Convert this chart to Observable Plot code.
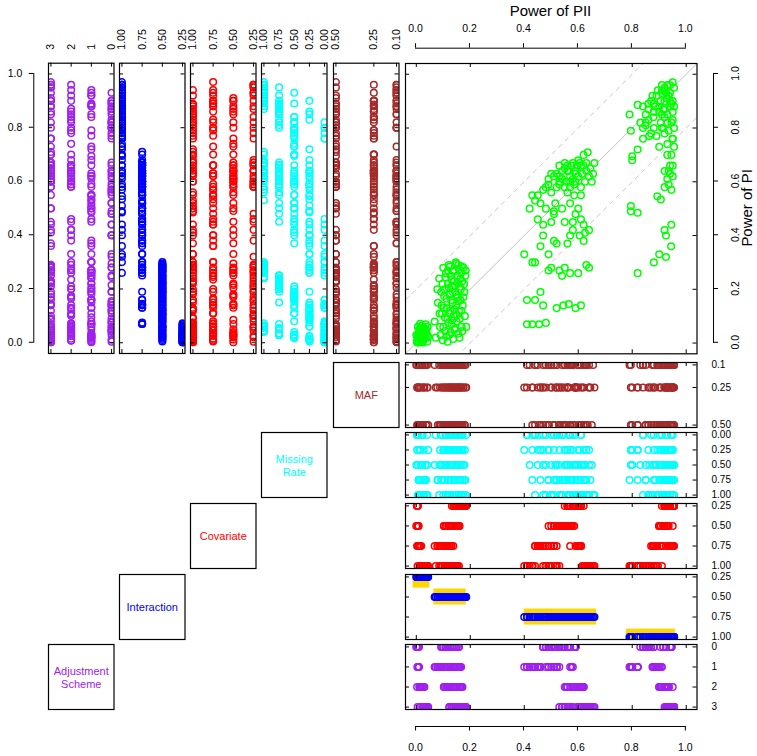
<!DOCTYPE html>
<html>
<head>
<meta charset="utf-8">
<script src="https://cdn.jsdelivr.net/npm/d3@7"></script>
<script src="https://cdn.jsdelivr.net/npm/@observablehq/plot@0.6"></script>
<style>
  html, body { margin: 0; padding: 0; background: #ffffff; }
  #chart { position: relative; width: 757px; height: 756px; overflow: hidden; background: #ffffff; }
</style>
</head>
<body>
<div id="chart"></div>
<script>
// ---------------- DATA ----------------
// rows: [Power of PII, Power of PI, adjustment scheme, covariate, missing rate, MAF]
const interaction025 = [
  [0.002,0.004,0,0.25,0.00,0.10],[0.004,0.012,0,0.50,0.25,0.25],[0.006,0.020,1,0.25,0.50,0.50],
  [0.008,0.030,1,0.50,0.75,0.10],[0.010,0.045,0,0.75,1.00,0.25],[0.003,0.008,2,0.75,0.00,0.50],
  [0.012,0.015,2,0.75,0.25,0.10],[0.018,0.025,2,0.75,0.50,0.25],[0.025,0.035,2,1.00,0.75,0.50],
  [0.030,0.055,2,1.00,1.00,0.10],[0.005,0.002,3,1.00,0.00,0.25],[0.015,0.010,3,1.00,0.25,0.50],
  [0.022,0.018,3,1.00,0.50,0.10],[0.030,0.028,3,1.00,0.75,0.25],[0.038,0.040,3,1.00,1.00,0.50],
  [0.042,0.060,3,1.00,1.00,0.25],[0.035,0.070,3,1.00,0.75,0.10],[0.020,0.065,2,1.00,1.00,0.50],
  [0.010,0.050,1,0.75,0.75,0.50],[0.040,0.005,3,1.00,0.00,0.10],[0.028,0.012,3,1.00,0.25,0.25],
  [0.016,0.040,2,1.00,0.50,0.50],[0.000,0.030,0,0.50,0.50,0.10],[0.044,0.022,3,1.00,0.25,0.50],
  [0.008,0.002,1,0.50,0.00,0.25],[0.012,0.035,2,0.75,0.75,0.10],[0.020,0.008,2,1.00,0.00,0.50],
  [0.026,0.045,3,1.00,1.00,0.25],[0.033,0.018,3,1.00,0.50,0.10],[0.006,0.060,0,0.75,1.00,0.50],
  [0.014,0.072,2,0.75,1.00,0.25],[0.036,0.050,3,1.00,0.75,0.50],[0.024,0.002,3,1.00,0.00,0.10],
  [0.004,0.025,1,0.25,0.25,0.25],[0.018,0.055,2,1.00,0.75,0.10],[0.040,0.030,3,1.00,0.50,0.25]
];
const interaction050 = [
  [0.068,0.080,1,0.75,0.50,0.10],[0.072,0.020,1,1.00,0.00,0.25],[0.080,0.150,1,0.75,0.75,0.50],
  [0.085,0.240,1,1.00,1.00,0.10],[0.088,0.060,1,0.75,0.25,0.25],[0.092,0.190,0,1.00,0.75,0.50],
  [0.095,0.110,0,0.75,0.50,0.10],[0.098,0.010,1,1.00,0.00,0.25],[0.100,0.280,0,0.75,1.00,0.50],
  [0.102,0.130,2,0.50,0.25,0.10],[0.105,0.200,2,1.00,0.75,0.25],[0.108,0.045,0,0.75,0.00,0.50],
  [0.110,0.260,1,0.50,1.00,0.10],[0.112,0.165,2,0.75,0.50,0.25],[0.115,0.090,0,1.00,0.25,0.50],
  [0.118,0.220,1,0.50,0.75,0.10],[0.120,0.290,2,1.00,1.00,0.25],[0.122,0.030,3,0.75,0.00,0.50],
  [0.124,0.180,3,0.50,0.50,0.10],[0.126,0.120,0,1.00,0.25,0.25],[0.128,0.250,1,0.75,0.75,0.50],
  [0.130,0.070,2,0.50,0.00,0.10],[0.132,0.210,3,0.25,0.50,0.25],[0.134,0.150,0,1.00,0.25,0.50],
  [0.136,0.270,1,0.50,1.00,0.10],[0.138,0.100,2,0.25,0.25,0.25],[0.140,0.230,3,1.00,0.75,0.50],
  [0.142,0.050,0,0.50,0.00,0.10],[0.144,0.190,1,0.25,0.50,0.25],[0.146,0.300,2,1.00,1.00,0.50],
  [0.148,0.140,3,0.50,0.25,0.10],[0.150,0.080,0,0.25,0.00,0.25],[0.152,0.250,1,1.00,0.75,0.50],
  [0.154,0.170,2,0.50,0.50,0.10],[0.156,0.290,3,0.25,1.00,0.25],[0.158,0.120,0,1.00,0.25,0.50],
  [0.160,0.020,1,0.50,0.00,0.10],[0.162,0.210,2,0.25,0.75,0.25],[0.164,0.160,3,0.25,0.50,0.50],
  [0.166,0.260,1,0.25,1.00,0.10],[0.168,0.060,2,0.25,0.00,0.25],[0.170,0.230,3,0.25,0.75,0.50],
  [0.172,0.140,3,0.25,0.25,0.10],[0.175,0.280,3,0.25,1.00,0.25],[0.178,0.190,3,0.25,0.50,0.50],
  [0.182,0.250,3,0.25,0.75,0.10],[0.185,0.060,3,0.25,0.00,0.25],[0.116,0.005,1,0.75,0.25,0.50],
  [0.090,0.030,1,1.00,0.00,0.50],[0.094,0.140,0,0.75,0.50,0.25],[0.097,0.220,1,1.00,0.75,0.10],
  [0.100,0.060,0,0.75,0.25,0.50],[0.103,0.175,2,0.50,0.50,0.25],[0.106,0.095,1,1.00,0.25,0.10],
  [0.109,0.245,0,0.75,1.00,0.50],[0.111,0.025,2,0.50,0.00,0.25],[0.113,0.130,1,1.00,0.50,0.10],
  [0.117,0.270,2,0.75,1.00,0.50],[0.119,0.075,0,1.00,0.25,0.25],[0.121,0.205,1,0.50,0.75,0.10],
  [0.123,0.110,2,0.75,0.25,0.50],[0.125,0.285,3,1.00,1.00,0.25],[0.127,0.040,0,0.50,0.00,0.10],
  [0.129,0.160,1,1.00,0.50,0.50],[0.131,0.235,2,0.75,0.75,0.25],[0.133,0.085,3,0.50,0.25,0.10],
  [0.135,0.190,0,1.00,0.50,0.50],[0.137,0.015,1,0.75,0.00,0.25],[0.139,0.265,3,0.25,1.00,0.10],
  [0.141,0.125,2,1.00,0.25,0.50],[0.143,0.215,0,0.50,0.75,0.25],[0.145,0.055,3,0.25,0.00,0.10],
  [0.147,0.180,1,1.00,0.50,0.50],[0.149,0.295,0,0.50,1.00,0.25],[0.151,0.105,2,0.25,0.25,0.10],
  [0.153,0.225,3,1.00,0.75,0.50],[0.155,0.035,1,0.50,0.00,0.25],[0.157,0.155,0,0.25,0.50,0.10],
  [0.159,0.275,2,0.50,1.00,0.50],[0.161,0.090,3,0.25,0.25,0.25],[0.163,0.240,1,0.25,0.75,0.10],
  [0.165,0.200,2,0.25,0.50,0.50],[0.167,0.120,3,0.25,0.25,0.25],[0.169,0.285,3,0.25,1.00,0.10],
  [0.171,0.045,2,0.25,0.00,0.50],[0.174,0.170,3,0.25,0.50,0.25],[0.177,0.220,3,0.25,0.75,0.10],
  [0.180,0.100,3,0.25,0.25,0.50],[0.183,0.270,3,0.25,1.00,0.25],[0.086,0.110,1,0.75,0.50,0.50],
  [0.078,0.200,1,0.75,0.75,0.25]
];
const interaction075 = [
  [0.44,0.53,1,1.00,1.00,0.10],[0.48,0.58,0,0.75,1.00,0.25],[0.51,0.62,1,0.50,1.00,0.50],
  [0.54,0.64,0,0.50,1.00,0.10],[0.56,0.66,2,0.25,1.00,0.25],[0.58,0.67,3,0.50,1.00,0.50],
  [0.60,0.68,2,0.25,1.00,0.10],[0.62,0.70,3,1.00,1.00,0.25],[0.635,0.71,3,1.00,1.00,0.50],
  [0.66,0.67,3,1.00,1.00,0.25],[0.57,0.62,1,0.75,1.00,0.10],[0.53,0.60,3,0.50,1.00,0.50],
  [0.50,0.56,0,1.00,1.00,0.10],[0.59,0.64,0,0.25,1.00,0.25],[0.61,0.66,2,0.75,1.00,0.50],
  [0.64,0.62,3,1.00,1.00,0.10],
  [0.43,0.55,1,1.00,0.75,0.25],[0.46,0.52,1,0.75,0.75,0.50],[0.49,0.61,0,0.50,0.75,0.10],
  [0.52,0.63,1,1.00,0.75,0.25],[0.55,0.65,2,0.50,0.75,0.50],[0.57,0.60,3,0.25,0.75,0.10],
  [0.59,0.63,2,0.75,0.75,0.25],[0.61,0.58,3,0.25,0.75,0.50],[0.63,0.64,3,1.00,0.75,0.10],
  [0.56,0.56,0,0.50,0.75,0.25],[0.51,0.48,0,0.75,0.75,0.50],[0.58,0.45,2,0.25,0.75,0.10],
  [0.54,0.50,3,0.50,0.75,0.25],[0.62,0.66,2,1.00,0.75,0.50],
  [0.42,0.50,1,1.00,0.50,0.10],[0.45,0.46,1,0.75,0.50,0.25],[0.47,0.40,0,1.00,0.50,0.50],
  [0.50,0.45,1,0.75,0.50,0.10],[0.53,0.62,0,0.50,0.50,0.25],[0.55,0.58,3,0.50,0.50,0.50],
  [0.57,0.52,0,0.50,0.50,0.10],[0.59,0.60,2,0.25,0.50,0.25],[0.60,0.50,3,0.75,0.50,0.50],
  [0.62,0.44,3,1.00,0.50,0.10],[0.64,0.42,3,1.00,0.50,0.25],[0.65,0.60,3,1.00,0.50,0.50],
  [0.52,0.37,1,1.00,0.50,0.10],[0.56,0.64,2,0.25,0.50,0.25],
  [0.40,0.33,1,1.00,0.25,0.25],[0.43,0.30,1,1.00,0.25,0.50],[0.45,0.55,1,0.75,0.25,0.10],
  [0.47,0.44,0,0.75,0.25,0.25],[0.49,0.27,1,1.00,0.25,0.50],[0.51,0.49,0,0.50,0.25,0.10],
  [0.55,0.28,3,0.50,0.25,0.25],[0.57,0.40,0,0.50,0.25,0.50],[0.58,0.61,1,0.25,0.25,0.10],
  [0.60,0.26,2,0.75,0.25,0.25],[0.62,0.38,2,0.25,0.25,0.50],[0.63,0.29,3,1.00,0.25,0.10],
  [0.46,0.19,1,0.75,0.25,0.25],[0.53,0.59,0,0.50,0.25,0.50],
  [0.41,0.07,1,1.00,0.00,0.10],[0.43,0.07,1,1.00,0.00,0.25],[0.455,0.07,1,0.75,0.00,0.50],
  [0.48,0.075,0,1.00,0.00,0.10],[0.41,0.16,1,1.00,0.00,0.25],[0.44,0.16,1,0.75,0.00,0.50],
  [0.47,0.14,0,0.75,0.00,0.10],[0.52,0.13,1,0.75,0.00,0.25],[0.545,0.14,0,0.50,0.00,0.50],
  [0.565,0.145,3,0.50,0.00,0.10],[0.59,0.13,0,0.25,0.00,0.25],[0.61,0.14,2,0.75,0.00,0.50],
  [0.44,0.30,1,0.75,0.00,0.10],[0.50,0.28,0,1.00,0.00,0.25],[0.54,0.25,0,0.50,0.00,0.50],
  [0.58,0.42,2,0.25,0.00,0.10],[0.61,0.46,2,0.25,0.00,0.25],[0.51,0.38,1,0.75,0.00,0.50],
  [0.47,0.57,0,0.75,1.00,0.25],[0.49,0.59,1,0.75,0.75,0.50],[0.50,0.63,0,0.50,1.00,0.25],
  [0.52,0.58,1,0.50,0.75,0.10],[0.53,0.66,0,0.50,0.75,0.50],[0.54,0.61,3,0.50,1.00,0.25],
  [0.55,0.67,0,0.25,0.75,0.10],[0.555,0.60,2,0.50,0.50,0.50],[0.565,0.64,3,0.25,1.00,0.25],
  [0.575,0.66,1,0.50,0.75,0.10],[0.585,0.59,2,0.25,0.50,0.50],[0.595,0.66,3,0.75,1.00,0.25],
  [0.60,0.62,2,0.25,0.75,0.10],[0.605,0.67,3,0.25,1.00,0.50],[0.615,0.63,2,1.00,0.50,0.25],
  [0.625,0.60,3,1.00,0.75,0.10],[0.63,0.67,3,1.00,1.00,0.50],[0.645,0.65,3,1.00,0.75,0.25],
  [0.655,0.63,3,1.00,1.00,0.10],[0.585,0.55,0,0.50,0.50,0.25],[0.57,0.58,2,0.25,0.75,0.50],
  [0.61,0.55,3,0.75,0.50,0.10],[0.515,0.52,0,1.00,0.50,0.25],[0.48,0.50,1,1.00,0.50,0.50],
  [0.55,0.45,3,0.50,0.25,0.10],[0.59,0.48,0,0.25,0.50,0.25],[0.605,0.40,2,0.75,0.25,0.50],
  [0.625,0.41,3,1.00,0.50,0.10],[0.46,0.36,1,0.75,0.25,0.25],[0.49,0.33,0,1.00,0.25,0.50],
  [0.56,0.37,3,0.50,0.25,0.10],[0.53,0.27,1,1.00,0.00,0.25],[0.57,0.26,3,0.50,0.00,0.50],
  [0.64,0.28,3,1.00,0.25,0.25]
];
const interaction100 = [
  [0.84,0.88,0,1.00,1.00,0.10],[0.87,0.90,0,0.75,1.00,0.25],[0.89,0.92,1,1.00,1.00,0.50],
  [0.91,0.94,2,0.75,1.00,0.10],[0.93,0.96,3,0.25,1.00,0.25],[0.95,0.97,3,0.75,1.00,0.50],
  [0.92,0.90,2,0.50,1.00,0.10],[0.94,0.93,0,0.25,1.00,0.25],[0.90,0.88,1,0.50,1.00,0.50],
  [0.955,0.95,3,0.25,1.00,0.10],[0.86,0.87,0,1.00,1.00,0.25],[0.93,0.91,3,0.50,1.00,0.50],
  [0.79,0.85,1,1.00,0.75,0.10],[0.82,0.886,1,1.00,0.75,0.25],[0.85,0.81,0,1.00,0.75,0.50],
  [0.88,0.89,1,0.75,0.75,0.10],[0.90,0.86,2,0.50,0.75,0.25],[0.92,0.95,3,0.25,0.75,0.50],
  [0.94,0.88,3,0.75,0.75,0.10],[0.95,0.83,2,0.75,0.75,0.25],[0.915,0.80,0,0.50,0.75,0.50],
  [0.935,0.92,2,0.25,0.75,0.10],
  [0.795,0.79,1,1.00,0.50,0.25],[0.80,0.695,1,1.00,0.50,0.50],[0.83,0.82,0,1.00,0.50,0.10],
  [0.863,0.77,0,1.00,0.50,0.25],[0.89,0.77,1,0.75,0.50,0.50],[0.90,0.73,1,0.50,0.50,0.10],
  [0.92,0.84,2,0.25,0.50,0.25],[0.94,0.66,3,0.75,0.50,0.50],[0.93,0.61,2,0.50,0.50,0.10],
  [0.95,0.76,3,0.25,0.50,0.25],[0.945,0.89,0,0.75,0.50,0.50],[0.91,0.93,1,0.75,0.50,0.10],
  [0.80,0.68,1,1.00,0.25,0.25],[0.82,0.72,1,1.00,0.25,0.50],[0.893,0.546,1,0.75,0.25,0.10],
  [0.906,0.534,1,0.75,0.25,0.25],[0.92,0.58,2,0.25,0.25,0.50],[0.935,0.64,3,0.50,0.25,0.10],
  [0.95,0.62,3,0.75,0.25,0.25],[0.92,0.42,2,0.50,0.25,0.50],[0.925,0.40,0,0.75,0.25,0.10],
  [0.88,0.86,0,1.00,0.25,0.25],[0.91,0.85,2,1.00,0.25,0.50],[0.94,0.90,3,0.25,0.25,0.10],
  [0.944,0.36,3,0.75,0.00,0.25],[0.90,0.33,2,0.50,0.00,0.50],[0.88,0.30,1,0.75,0.00,0.10],
  [0.925,0.32,0,0.25,0.00,0.25],[0.87,0.78,0,1.00,0.00,0.50],[0.91,0.80,2,0.75,0.00,0.10],
  [0.93,0.82,3,0.25,0.00,0.25],[0.95,0.76,3,0.50,0.00,0.50],[0.945,0.44,0,0.75,0.00,0.10],
  [0.84,0.76,0,1.00,0.00,0.25],
  [0.795,0.51,1,1.00,0.25,0.50],[0.795,0.49,1,1.00,0.25,0.10],[0.82,0.485,1,1.00,0.25,0.25],
  [0.82,0.26,1,1.00,0.25,0.50],[0.93,0.70,2,0.50,0.50,0.25],[0.95,0.86,3,0.75,0.75,0.50],
  [0.92,0.87,2,0.25,0.75,0.10],[0.85,0.82,0,1.00,0.50,0.50],
  [0.85,0.85,0,1.00,0.75,0.10],[0.86,0.89,0,1.00,1.00,0.50],[0.878,0.84,1,1.00,0.50,0.25],
  [0.875,0.92,1,0.75,1.00,0.10],[0.88,0.80,0,0.75,0.50,0.50],[0.885,0.88,1,0.75,0.75,0.25],
  [0.895,0.94,1,1.00,1.00,0.10],[0.906,0.82,2,0.50,0.50,0.50],[0.905,0.90,0,0.50,0.75,0.25],
  [0.91,0.96,2,0.25,1.00,0.10],[0.915,0.87,0,0.50,0.75,0.50],[0.92,0.78,2,0.25,0.50,0.25],
  [0.925,0.93,3,0.25,1.00,0.10],[0.93,0.85,3,0.50,0.75,0.50],[0.935,0.79,2,0.75,0.50,0.25],
  [0.94,0.96,3,0.25,1.00,0.10],[0.945,0.82,0,0.75,0.75,0.50],[0.95,0.90,3,0.75,1.00,0.25],
  [0.955,0.80,3,0.25,0.50,0.10],[0.93,0.74,2,0.50,0.50,0.50],[0.945,0.70,3,0.75,0.50,0.25],
  [0.95,0.66,3,0.25,0.25,0.10],[0.94,0.63,3,0.75,0.25,0.50],[0.935,0.59,2,0.25,0.25,0.25],
  [0.945,0.57,0,0.75,0.25,0.10],[0.955,0.73,3,0.75,0.50,0.50],[0.92,0.64,2,0.50,0.25,0.25],
  [0.84,0.80,0,1.00,0.00,0.10],[0.86,0.83,0,1.00,0.25,0.50],[0.955,0.88,3,0.25,0.75,0.25]
];

// factor levels and tick labels
const adjustLevels = [0, 1, 2, 3];
const adjustLabels = ["0", "1", "2", "3"];
const interactionLevels = [0.25, 0.5, 0.75, 1];
const interactionLabels = ["0.25", "0.50", "0.75", "1.00"];
const covariateLevels = [0.25, 0.5, 0.75, 1];
const covariateLabels = ["0.25", "0.50", "0.75", "1.00"];
const missingLevels = [0, 0.25, 0.5, 0.75, 1];
const missingLabels = ["0.00", "0.25", "0.50", "0.75", "1.00"];
const mafLevels = [0.1, 0.25, 0.5];
const mafTopLabels = ["0.10", "0.25", "0.50"];
const mafSideLabels = ["0.1", "0.25", "0.50"];
const powerTicks = [0, 0.2, 0.4, 0.6, 0.8, 1];
const powerTickLabels = ["0.0", "0.2", "0.4", "0.6", "0.8", "1.0"];
const factorNames = ["Adjustment\nScheme", "Interaction", "Covariate", "Missing\nRate", "MAF"];
const axisTitles = ["Power of PII", "Power of PI"];
// reference lines in the main panel: PI = PII + offset
const solidOffsets = [0];
const dashedOffsets = [-0.2, 0.2];
// gold bands behind the interaction strip: [level, PII from, PII to, level from, level to]
const interactionBands = [
  [0.25, -0.012, 0.050, 0.15, 0.39],
  [0.50, 0.065, 0.185, 0.40, 0.60],
  [0.75, 0.400, 0.668, 0.65, 0.85],
  [1.00, 0.778, 0.960, 0.90, 1.10]
];

// ---------------- BUILD ----------------
const records = [];
[interaction025, interaction050, interaction075, interaction100].forEach((rows, k) => {
  rows.forEach(r => records.push({
    pii: r[0], pi: r[1], adjust: r[2], interaction: interactionLevels[k],
    covariate: r[3], missing: r[4], maf: r[5]
  }));
});
const bands = interactionBands.map(b => ({level: b[0], x1: b[1], x2: b[2], y1: b[3], y2: b[4]}));

const FONT = "'Liberation Sans', Arial, Helvetica, sans-serif";
const padExtent = (vals) => { const [lo, hi] = d3.extent(vals); const d = (hi - lo) * 0.04; return [lo - d, hi + d]; };
const powerDomain = padExtent(powerTicks);

const factors = [
  {key: "adjust", color: "#A020F0", levels: adjustLevels, top: adjustLabels, side: adjustLabels},
  {key: "interaction", color: "#0000FF", levels: interactionLevels, top: interactionLabels, side: interactionLabels},
  {key: "covariate", color: "#FF0000", levels: covariateLevels, top: covariateLabels, side: covariateLabels},
  {key: "missing", color: "#00FFFF", levels: missingLevels, top: missingLabels, side: missingLabels},
  {key: "maf", color: "#A52A2A", levels: mafLevels, top: mafTopLabels, side: mafSideLabels}
];
factors.forEach((f, i) => { f.name = factorNames[i]; f.domain = padExtent(f.levels); });

// layout (pixels)
const L = {
  col0: 48.3, colStep: 71.05, small: 65.5,
  mainLeft: 404.5, mainTop: 62.7, mainW: 291.5, mainH: 290.3,
  row0: 361.7, rowStep: 70.6, stripH: 65
};
const colLeft = i => L.col0 + i * L.colStep;
const rowTop = j => L.row0 + j * L.rowStep;
const xPix = v => L.mainLeft + (v - powerDomain[0]) / (powerDomain[1] - powerDomain[0]) * L.mainW;
const yPix = v => L.mainTop + (powerDomain[1] - v) / (powerDomain[1] - powerDomain[0]) * L.mainH;

const chart = document.getElementById("chart");
const baseStyle = {fontFamily: FONT, fontSize: "10.5px", background: "none", color: "black", overflow: "visible"};
function mount(svg, left, top) {
  svg.style.position = "absolute";
  svg.style.left = left + "px";
  svg.style.top = top + "px";
  svg.style.overflow = "visible";
  svg.style.maxWidth = "none";
  chart.appendChild(svg);
}
const TICK = 4;
function innerTicks(xv, yv, w, h) {
  return [
    Plot.tickX(xv, {x: d => d, insetBottom: h - TICK, stroke: "black"}),
    Plot.tickX(xv, {x: d => d, insetTop: h - TICK, stroke: "black"}),
    Plot.tickY(yv, {y: d => d, insetRight: w - TICK, stroke: "black"}),
    Plot.tickY(yv, {y: d => d, insetLeft: w - TICK, stroke: "black"})
  ];
}
const dotStyle = {r: 3.3, strokeWidth: 1.5, fill: "none", clip: true};
const frameStyle = {stroke: "black", strokeWidth: 1.2};

// main scatter
mount(Plot.plot({
  width: L.mainW, height: L.mainH, margin: 0, style: baseStyle,
  x: {domain: powerDomain, axis: null}, y: {domain: powerDomain, axis: null},
  marks: [
    Plot.link(dashedOffsets, {x1: powerDomain[0], x2: powerDomain[1], y1: o => powerDomain[0] + o, y2: o => powerDomain[1] + o,
      stroke: "#c8c8c8", strokeWidth: 1, strokeDasharray: "5,4", clip: true}),
    Plot.link(solidOffsets, {x1: powerDomain[0], x2: powerDomain[1], y1: o => powerDomain[0] + o, y2: o => powerDomain[1] + o,
      stroke: "#c0c0c0", strokeWidth: 1, clip: true}),
    Plot.dot(records, {x: "pii", y: "pi", stroke: "#00FF00", ...dotStyle}),
    ...innerTicks(powerTicks, powerTicks, L.mainW, L.mainH),
    Plot.frame(frameStyle)
  ]
}), L.mainLeft, L.mainTop);

// left column panels (factor level vs Power of PI)
factors.forEach((f, i) => {
  const mt = L.mainTop;
  mount(Plot.plot({
    width: L.small, height: L.mainH + mt, marginTop: mt, marginBottom: 0, marginLeft: 0, marginRight: 0, style: baseStyle,
    x: {domain: [f.domain[1], f.domain[0]], axis: null}, y: {domain: powerDomain, axis: null},
    marks: [
      Plot.dot(records, {x: f.key, y: "pi", stroke: f.color, ...dotStyle}),
      ...innerTicks(f.levels, powerTicks, L.small, L.mainH),
      Plot.frame(frameStyle),
      Plot.text(f.levels, {x: d => d, text: (d, k) => f.top[k], frameAnchor: "top", dy: -13.5, rotate: -90,
        textAnchor: "start", lineAnchor: "middle", fontSize: 10.5})
    ]
  }), colLeft(i), 0);
});

// bottom strips (Power of PII vs factor level)
factors.forEach((f, i) => {
  const j = factors.length - 1 - i;
  const mr = 61;
  const marks = [];
  if (f.key === "interaction") {
    marks.push(Plot.rect(bands, {x1: "x1", x2: "x2", y1: "y1", y2: "y2", fill: "#FFD700", clip: true}));
  }
  marks.push(
    Plot.dot(records, {x: "pii", y: f.key, stroke: f.color, ...dotStyle}),
    ...innerTicks(powerTicks, f.levels, L.mainW, L.stripH),
    Plot.frame(frameStyle),
    Plot.text(f.levels, {y: d => d, text: (d, k) => f.side[k], frameAnchor: "right", dx: 14.5,
      textAnchor: "start", lineAnchor: "middle", fontSize: 10})
  );
  mount(Plot.plot({
    width: L.mainW + mr, height: L.stripH, marginTop: 0, marginBottom: 0, marginLeft: 0, marginRight: mr, style: baseStyle,
    x: {domain: powerDomain, axis: null}, y: {domain: [f.domain[1], f.domain[0]], axis: null},
    marks
  }), L.mainLeft, rowTop(j));
});

// diagonal name boxes
factors.forEach((f, i) => {
  const j = factors.length - 1 - i;
  mount(Plot.plot({
    width: L.small, height: L.stripH, margin: 0, style: baseStyle,
    marks: [
      Plot.frame(frameStyle),
      Plot.text([f.name], {frameAnchor: "middle", fill: f.color, fontSize: 11, lineHeight: 1.2})
    ]
  }), colLeft(i), rowTop(j));
});

// outer axis: top (Power of PII)
{
  const lineY = 47.7, tick = 4.5, pad = 20;
  const left = xPix(powerTicks[0]), w = xPix(powerTicks[powerTicks.length - 1]) - left;
  mount(Plot.plot({
    width: w + 2 * pad, height: lineY, marginLeft: pad, marginRight: pad, marginTop: lineY - tick, marginBottom: 0, style: baseStyle,
    x: {domain: d3.extent(powerTicks), axis: null},
    marks: [
      Plot.tickX(powerTicks, {x: d => d, stroke: "black"}),
      Plot.frame({anchor: "bottom", stroke: "black", strokeWidth: 1}),
      Plot.text(powerTicks, {x: d => d, text: (d, k) => powerTickLabels[k], frameAnchor: "top", dy: -15.5, lineAnchor: "middle", fontSize: 10.5}),
      Plot.text([axisTitles[0]], {frameAnchor: "top", dy: -32.2, lineAnchor: "middle", fontSize: 15})
    ]
  }), left - pad, 0);
}

// outer axis: right (Power of PI)
{
  const lineX = 712.5, tick = 5, pad = 15;
  const top = yPix(powerTicks[powerTicks.length - 1]), h = yPix(powerTicks[0]) - top;
  mount(Plot.plot({
    width: 757 - lineX, height: h + 2 * pad, marginLeft: 0, marginRight: 757 - lineX - tick, marginTop: pad, marginBottom: pad, style: baseStyle,
    y: {domain: d3.extent(powerTicks), axis: null},
    marks: [
      Plot.tickY(powerTicks, {y: d => d, stroke: "black"}),
      Plot.frame({anchor: "left", stroke: "black", strokeWidth: 1}),
      Plot.text(powerTicks, {y: d => d, text: (d, k) => powerTickLabels[k], frameAnchor: "right", dx: 17, rotate: -90,
        textAnchor: "middle", lineAnchor: "middle", fontSize: 10.5}),
      Plot.text([axisTitles[1]], {frameAnchor: "right", dx: 29, rotate: -90, textAnchor: "middle", lineAnchor: "middle", fontSize: 15})
    ]
  }), lineX, top - pad);
}

// outer axis: left (Power of PI for the factor columns)
{
  const lineX = 33.3, tick = 4.5, pad = 15;
  const top = yPix(powerTicks[powerTicks.length - 1]), h = yPix(powerTicks[0]) - top;
  mount(Plot.plot({
    width: lineX, height: h + 2 * pad, marginLeft: lineX - tick, marginRight: 0, marginTop: pad, marginBottom: pad, style: baseStyle,
    y: {domain: d3.extent(powerTicks), axis: null},
    marks: [
      Plot.tickY(powerTicks, {y: d => d, stroke: "black"}),
      Plot.frame({anchor: "right", stroke: "black", strokeWidth: 1}),
      Plot.text(powerTicks, {y: d => d, text: (d, k) => powerTickLabels[k], frameAnchor: "left", dx: -7,
        textAnchor: "end", lineAnchor: "middle", fontSize: 10.5})
    ]
  }), 0, top - pad);
}

// outer axis: bottom (Power of PII for the factor strips)
{
  const lineY = 726, tick = 4.5, pad = 20;
  const left = xPix(powerTicks[0]), w = xPix(powerTicks[powerTicks.length - 1]) - left;
  mount(Plot.plot({
    width: w + 2 * pad, height: 756 - lineY, marginLeft: pad, marginRight: pad, marginTop: 0, marginBottom: 756 - lineY - tick, style: baseStyle,
    x: {domain: d3.extent(powerTicks), axis: null},
    marks: [
      Plot.tickX(powerTicks, {x: d => d, stroke: "black"}),
      Plot.frame({anchor: "top", stroke: "black", strokeWidth: 1}),
      Plot.text(powerTicks, {x: d => d, text: (d, k) => powerTickLabels[k], frameAnchor: "bottom", dy: 17, lineAnchor: "middle", fontSize: 10.5})
    ]
  }), left - pad, lineY);
}
</script>
</body>
</html>
